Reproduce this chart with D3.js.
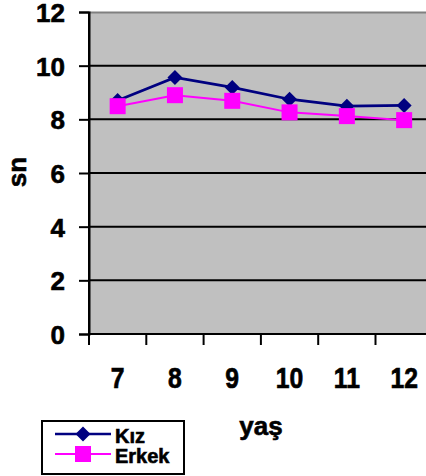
<!DOCTYPE html>
<html>
<head>
<meta charset="utf-8">
<script src="https://cdn.jsdelivr.net/npm/d3@7"></script>
<style>
html,body{margin:0;padding:0;background:#fff;}
svg{display:block;}
text{font-family:Arial,"Liberation Sans",sans-serif;font-weight:bold;fill:#000;stroke:#000;stroke-width:0.6px;}
</style>
</head>
<body>
<svg id="c" width="426" height="476"></svg>
<script>
const categories = ["7","8","9","10","11","12"];
const kiz = [8.7, 9.56, 9.19, 8.75, 8.49, 8.52];
const erkek = [8.49, 8.9, 8.69, 8.26, 8.12, 7.97];
const yTicks = [0,2,4,6,8,10,12];
const seriesNames = ["Kız","Erkek"];

(function(){
const svg = d3.select("#c");
const pLeft = 89, pTop = 12, pBottom = 334, bandW = 57.3;
const x = d3.scaleBand().domain(categories).range([pLeft, pLeft + bandW*categories.length]).padding(0);
const y = d3.scaleLinear().domain([0,12]).range([pBottom, pTop]);
const pRight = pLeft + bandW*categories.length;

svg.append("rect").attr("x", pLeft).attr("y", pTop).attr("width", pRight-pLeft).attr("height", pBottom-pTop).attr("fill", "#C0C0C0");
svg.append("line").attr("x1", pLeft).attr("x2", pRight).attr("y1", pTop+0.5).attr("y2", pTop+0.5).attr("stroke", "#808080").attr("stroke-width", 2);

svg.append("g").selectAll("line").data(yTicks.filter(d => d>0 && d<12)).join("line")
  .attr("x1", pLeft).attr("x2", pRight)
  .attr("y1", d => y(d)).attr("y2", d => y(d))
  .attr("stroke", "#000").attr("stroke-width", 2);

const yAxis = d3.axisLeft(y).tickValues(yTicks).tickSize(10).tickPadding(14).tickFormat(d3.format("d"));
const gy = svg.append("g").attr("transform", `translate(${pLeft},0)`).call(yAxis);
gy.select(".domain").attr("stroke", "#000").attr("stroke-width", 2);
gy.selectAll(".tick line").attr("stroke", "#000").attr("stroke-width", 2);
gy.selectAll(".tick text").style("font-size", "26px").style("font-family", "Arial, 'Liberation Sans', sans-serif").style("font-weight", "bold").attr("fill", "#000").attr("dy", "0.36em");

svg.append("line").attr("x1", pLeft).attr("x2", pRight).attr("y1", pBottom).attr("y2", pBottom).attr("stroke", "#000").attr("stroke-width", 2);
const bounds = categories.map(c => x(c)).concat([pRight]);
svg.append("g").selectAll("line").data(bounds).join("line")
  .attr("x1", d => d).attr("x2", d => d).attr("y1", pBottom).attr("y2", pBottom+11)
  .attr("stroke", "#000").attr("stroke-width", 2);
svg.append("g").selectAll("text").data(categories).join("text")
  .attr("transform", d => `translate(${x(d) + x.bandwidth()/2},388) scale(0.95,1.12)`)
  .attr("text-anchor", "middle").style("font-size", "26px").text(d => d);

svg.append("line").attr("x1", pLeft).attr("x2", pLeft).attr("y1", pTop).attr("y2", pBottom+11).attr("stroke", "#000").attr("stroke-width", 2);

svg.append("text").attr("transform", "translate(26,172) rotate(-90)").attr("text-anchor", "middle").style("font-size", "26px").text("sn");
svg.append("text").attr("x", 261).attr("y", 435).attr("text-anchor", "middle").style("font-size", "26px").text("yaş");

const cx = (d,i) => x(categories[i]) + x.bandwidth()/2;
const line = d3.line().x((d,i) => cx(d,i)).y(d => y(d));
svg.append("path").datum(kiz).attr("d", line).attr("fill", "none").attr("stroke", "#000080").attr("stroke-width", 2.7);
const diamond = s => `M0,${-s}L${s},0L0,${s}L${-s},0Z`;
svg.append("g").selectAll("path").data(kiz).join("path")
  .attr("transform", (d,i) => `translate(${cx(d,i)},${y(d)})`)
  .attr("d", diamond(7.5)).attr("fill", "#000080");

svg.append("path").datum(erkek).attr("d", line).attr("fill", "none").attr("stroke", "#FF00FF").attr("stroke-width", 2);
svg.append("g").selectAll("rect").data(erkek).join("rect")
  .attr("x", (d,i) => cx(d,i) - 8).attr("y", d => y(d) - 8)
  .attr("width", 16).attr("height", 16).attr("fill", "#FF00FF");

const lg = svg.append("g");
lg.append("rect").attr("x", 42).attr("y", 421).attr("width", 142).attr("height", 53).attr("fill", "#fff").attr("stroke", "#000").attr("stroke-width", 2);
const rows = [{name: seriesNames[0], color: "#000080", y: 434, sw: 2.7}, {name: seriesNames[1], color: "#FF00FF", y: 454, sw: 2}];
rows.forEach((r,i) => {
  lg.append("line").attr("x1", 55).attr("x2", 111).attr("y1", r.y).attr("y2", r.y).attr("stroke", r.color).attr("stroke-width", r.sw);
  if (i === 0) {
    lg.append("path").attr("transform", `translate(83,${r.y})`).attr("d", diamond(7.5)).attr("fill", r.color);
  } else {
    lg.append("rect").attr("x", 75).attr("y", r.y-8).attr("width", 16).attr("height", 16).attr("fill", r.color);
  }
  lg.append("text").attr("x", 115).attr("y", r.y + 9).style("font-size", "20px").text(r.name);
});
})();
</script>
</body>
</html>
